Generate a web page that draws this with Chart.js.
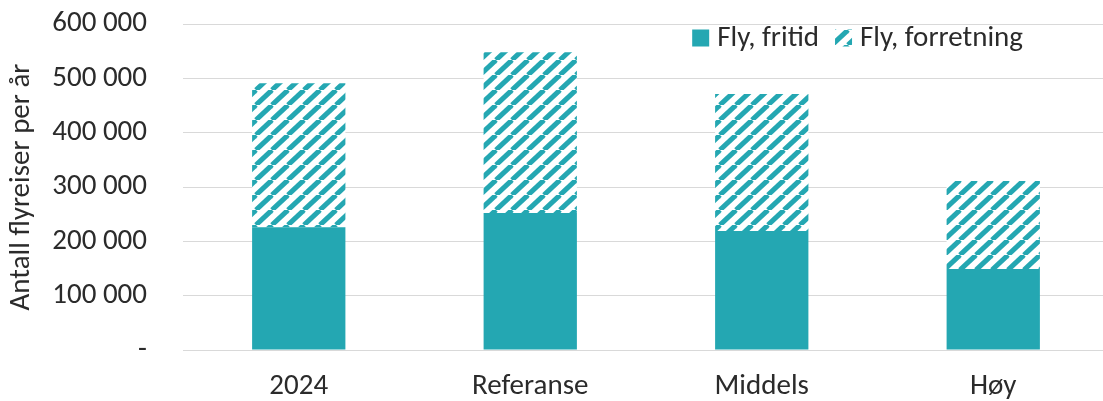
<!DOCTYPE html>
<html><head><meta charset="utf-8">
<script src="https://cdn.jsdelivr.net/npm/chart.js@4"></script>
<style>html,body{margin:0;padding:0;overflow:hidden;background:#fff} #wrap{width:1109px;height:401px;position:relative}</style>
</head><body><div id="wrap"><canvas id="c"></canvas></div>
<script>
const categories = ['2024', 'Referanse', 'Middels', 'Høy'];
const fritid = [226000, 252000, 219000, 149000];
const forretning = [265000, 296000, 252000, 162000];
const seriesNames = ['Fly, fritid', 'Fly, forretning'];
const yAxisTitle = 'Antall flyreiser per år';

const TEAL = '#24A7B2';
const TXT = '#2b2b2b';
const FONT = "Carlito, Lato, sans-serif";
const W = 400;
function makePattern() {
  const w = 16, h = 15;
  const cv = document.createElement('canvas');
  cv.width = w; cv.height = h;
  const g = cv.getContext('2d');
  g.fillStyle = '#fff'; g.fillRect(0, 0, w, h);
  g.strokeStyle = TEAL; g.lineWidth = 5;
  for (let k = -1; k <= 1; k++) {
    g.beginPath(); g.moveTo(k * w, h); g.lineTo((k + 1) * w, 0); g.stroke();
  }
  return g.createPattern(cv, 'repeat');
}
const hatch = makePattern();
function fmt(v) { return v === 0 ? '-' : String(v).replace(/\B(?=(\d{3})+(?!\d))/g, ' '); }

const legendPlugin = {
  id: 'customLegend',
  afterDraw(chart) {
    const ctx = chart.ctx;
    const size = 29, box = 17, gapBT = 8, gapItems = 16;
    const right = 1023, cy = 38;
    ctx.save();
    ctx.font = `${W} ${size}px ${FONT}`;
    ctx.textBaseline = 'middle';
    const items = chart.data.datasets.map(d => ({ label: d.label, fill: d.backgroundColor, w: ctx.measureText(d.label).width }));
    let total = 0;
    items.forEach((it, i) => { total += box + gapBT + it.w + (i ? gapItems : 0); });
    let x = right - total;
    items.forEach((it) => {
      ctx.fillStyle = it.fill;
      ctx.fillRect(x, cy - box / 2, box, box);
      ctx.fillStyle = TXT;
      ctx.fillText(it.label, x + box + gapBT, cy + 1);
      x += box + gapBT + it.w + gapItems;
    });
    ctx.restore();
  }
};

new Chart(document.getElementById('c'), {
  type: 'bar',
  data: {
    labels: categories,
    datasets: [
      { label: seriesNames[0], data: fritid, backgroundColor: TEAL, borderWidth: 0 },
      { label: seriesNames[1], data: forretning, backgroundColor: hatch, borderWidth: 0 }
    ]
  },
  plugins: [legendPlugin],
  options: {
    responsive: true, maintainAspectRatio: false, animation: false,
    layout: { padding: { top: 24, right: 0, bottom: 0, left: 0 } },
    datasets: { bar: { categoryPercentage: 1, barPercentage: 0.403 } },
    plugins: { tooltip: { enabled: false }, legend: { display: false } },
    scales: {
      x: {
        stacked: true,
        afterFit: (s) => { s.height = 51; s.paddingLeft = 0; s.paddingRight = 0; },
        grid: { display: false, drawTicks: false }, border: { display: false },
        ticks: { color: TXT, padding: 19, font: { family: FONT, size: 29, weight: W } }
      },
      y: {
        stacked: true, min: 0, max: 600000,
        afterFit: (s) => { s.width = 183; s.paddingTop = 0; s.paddingBottom = 0; },
        grid: { color: '#d9d9d9', lineWidth: 1, drawTicks: false }, border: { display: false },
        ticks: { stepSize: 100000, padding: 36, color: TXT, callback: (v) => fmt(v), font: { family: FONT, size: 29, weight: W } },
        title: { display: true, text: yAxisTitle, color: TXT, padding: { top: 4, bottom: 0 }, font: { family: FONT, size: 29, weight: W } }
      }
    }
  }
});
</script></body></html>
